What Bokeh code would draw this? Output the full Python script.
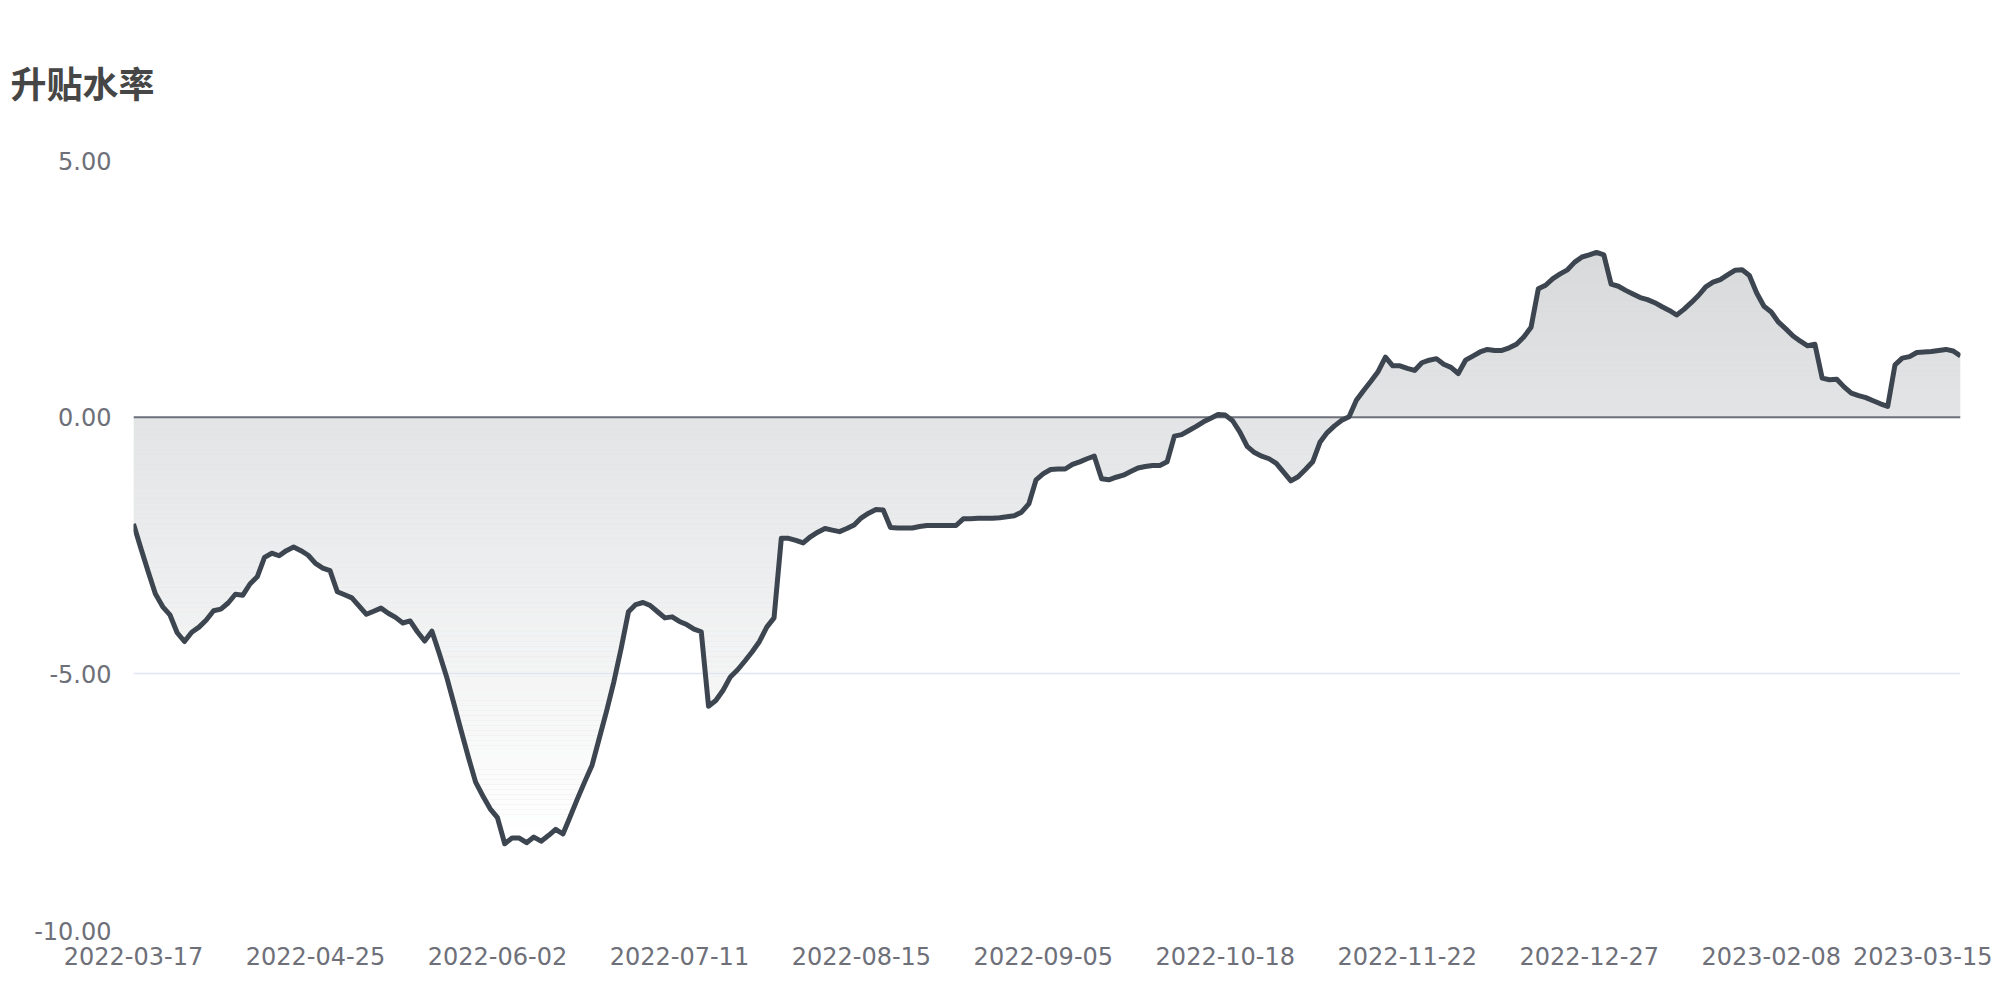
import numpy as np
from bokeh.plotting import figure
from bokeh.models import Range1d, FixedTicker, Span
from bokeh.embed import file_html
from bokeh.resources import INLINE

title_text = "升贴水率"

# x tick labels (every 25th trading day)
tick_dates = ["2022-03-17", "2022-04-25", "2022-06-02", "2022-07-11", "2022-08-15",
              "2022-09-05", "2022-10-18", "2022-11-22", "2022-12-27", "2023-02-08",
              "2023-03-15"]
tick_step = 25

y_ticks = [-10, -5, 0, 5]
y_tick_labels = ["-10.00", "-5.00", "0.00", "5.00"]

premium_rate = [
    -2.08, -2.55, -3.00, -3.44, -3.69, -3.85, -4.20, -4.37, -4.19, -4.09,
    -3.95, -3.77, -3.74, -3.62, -3.45, -3.47, -3.25, -3.11, -2.73, -2.65,
    -2.70, -2.60, -2.53, -2.60, -2.69, -2.85, -2.94, -2.99, -3.40, -3.46,
    -3.52, -3.68, -3.84, -3.78, -3.72, -3.82, -3.90, -4.01, -3.97, -4.18,
    -4.36, -4.17, -4.60, -5.05, -5.57, -6.10, -6.62, -7.11, -7.38, -7.63,
    -7.80, -8.31, -8.20, -8.20, -8.29, -8.18, -8.26, -8.15, -8.03, -8.12,
    -7.78, -7.43, -7.10, -6.78, -6.25, -5.72, -5.15, -4.50, -3.79, -3.65,
    -3.61, -3.67, -3.79, -3.91, -3.89, -3.98, -4.04, -4.13, -4.18, -5.63,
    -5.52, -5.32, -5.06, -4.92, -4.75, -4.57, -4.37, -4.09, -3.91, -2.36,
    -2.36, -2.40, -2.45, -2.33, -2.24, -2.17, -2.20, -2.23, -2.17, -2.10,
    -1.96, -1.87, -1.80, -1.81, -2.15, -2.16, -2.16, -2.16, -2.13, -2.11,
    -2.11, -2.11, -2.11, -2.11, -1.98, -1.98, -1.97, -1.97, -1.97, -1.96,
    -1.94, -1.92, -1.85, -1.69, -1.22, -1.10, -1.02, -1.01, -1.01, -0.92,
    -0.87, -0.81, -0.76, -1.20, -1.22, -1.17, -1.13, -1.06, -0.99, -0.96,
    -0.94, -0.94, -0.87, -0.37, -0.34, -0.26, -0.18, -0.09, -0.02, 0.05,
    0.04, -0.07, -0.29, -0.57, -0.69, -0.76, -0.81, -0.90, -1.07, -1.24,
    -1.16, -1.02, -0.87, -0.49, -0.30, -0.17, -0.06, 0.01, 0.33, 0.52,
    0.70, 0.89, 1.17, 1.00, 1.00, 0.95, 0.91, 1.06, 1.11, 1.14,
    1.03, 0.97, 0.85, 1.11, 1.19, 1.27, 1.32, 1.30, 1.30, 1.35,
    1.42, 1.56, 1.75, 2.50, 2.57, 2.70, 2.79, 2.87, 3.02, 3.12,
    3.16, 3.21, 3.16, 2.59, 2.55, 2.47, 2.40, 2.33, 2.29, 2.23,
    2.15, 2.08, 1.99, 2.10, 2.23, 2.37, 2.54, 2.63, 2.68, 2.77,
    2.86, 2.87, 2.76, 2.42, 2.16, 2.05, 1.85, 1.72, 1.58, 1.48,
    1.39, 1.42, 0.76, 0.73, 0.74, 0.59, 0.47, 0.42, 0.38, 0.32,
    0.26, 0.21, 1.02, 1.15, 1.18, 1.26, 1.27, 1.28, 1.30, 1.32,
    1.29, 1.19,
]

n = len(premium_rate)
x = np.arange(n)
y = np.array(premium_rate)

p = figure(width=1992, height=992, output_backend="svg", toolbar_location=None,
           x_range=Range1d(0, n - 1), y_range=Range1d(-10, 5),
           min_border_left=133, min_border_right=32, min_border_top=160,
           min_border_bottom=62)
p.outline_line_color = None
p.background_fill_color = "white"
p.border_fill_color = "white"

# title
p.title.text = title_text
p.title.text_font = "Noto Sans CJK SC"
p.title.text_font_size = "36px"
p.title.text_font_style = "bold"
p.title.text_color = "#464646"
p.title.align = "left"
p.title.offset = -123
p.title.standoff = 106

# area with vertical gradient (gray at top fading to white at bottom)
area = p.varea(x=x, y1=0, y2=y, fill_color="#d8dadc", fill_alpha=1.0)
area.level = "image"
ymax, ymin = float(y.max()), float(y.min())
nb = 120
edges = np.linspace(ymax, ymin, nb + 1)
tops = edges[:-1]
bots = edges[1:]
alphas = ((tops + bots) / 2 - ymax) / (ymin - ymax)
alphas = np.clip(alphas, 0, 1)
q = p.quad(left=-5, right=n + 5, top=tops, bottom=bots, fill_color="white",
           fill_alpha=alphas, line_color=None)
q.level = "image"
q2 = p.quad(left=-5, right=n + 5, top=ymin, bottom=-20, fill_color="white",
            line_color=None)
q2.level = "image"

# zero axis line
zero = Span(location=0, dimension="width", line_color="#6E7079", line_width=2)
zero.level = "underlay"
p.add_layout(zero)

p.line(x, y, line_color="#3d4650", line_width=5, line_join="round")

# axes
xa = p.xaxis[0]
xa.ticker = FixedTicker(ticks=list(range(0, n, tick_step))[:len(tick_dates)])
xa.major_label_overrides = {i * tick_step: d for i, d in enumerate(tick_dates)}
xa.axis_line_color = None
xa.major_tick_line_color = None
xa.minor_tick_line_color = None
xa.major_label_text_font = "DejaVu Sans"
xa.major_label_text_font_size = "24px"
xa.major_label_text_color = "#6E7079"
xa.major_label_standoff = 10

ya = p.yaxis[0]
ya.ticker = FixedTicker(ticks=y_ticks)
ya.major_label_overrides = {t: l for t, l in zip(y_ticks, y_tick_labels)}
ya.axis_line_color = None
ya.major_tick_line_color = None
ya.minor_tick_line_color = None
ya.major_label_text_font = "DejaVu Sans"
ya.major_label_text_font_size = "24px"
ya.major_label_text_color = "#6E7079"
ya.major_label_standoff = 16

p.xgrid.grid_line_color = None
p.ygrid.grid_line_color = "#E0E6F1"
p.ygrid.grid_line_width = 1.5

open("out.html", "w").write(file_html(p, INLINE))
